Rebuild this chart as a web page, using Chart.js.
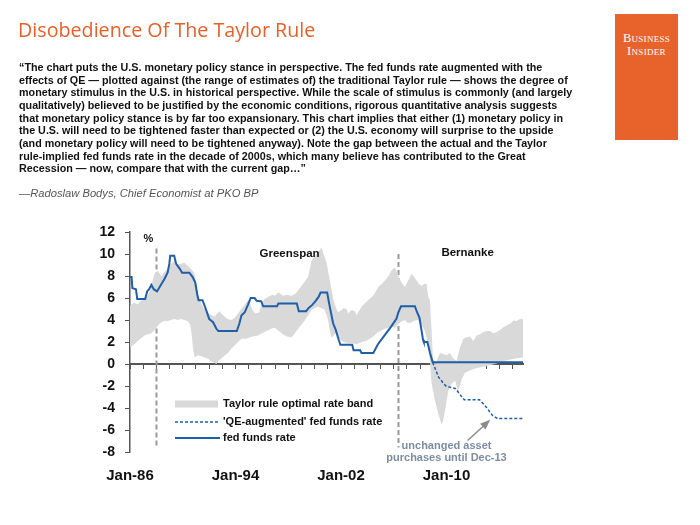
<!DOCTYPE html>
<html>
<head>
<meta charset="utf-8">
<script src="https://cdn.jsdelivr.net/npm/chart.js@4.4.0/dist/chart.umd.min.js"></script>
<style>
  body { margin: 0; width: 700px; height: 525px; background: #fff; position: relative; overflow: hidden; }
  #chart { position: absolute; left: 0; top: 0; }
  .title { position: absolute; left: 18px; top: 16px; font: 19.7px "Open Sans", sans-serif; color: #e85f27; white-space: nowrap; }
  .logo { position: absolute; left: 615px; top: 14px; width: 63px; height: 126px; background: #e8632b; color: #fff;
          font: 12.5px "Liberation Serif", serif; font-variant: small-caps; text-align: center; letter-spacing: 0.3px; }
  .logo div { position: absolute; left: 0; width: 63px; line-height: 13px; }
  .quote { position: absolute; left: 19px; top: 61px; font: bold 10.75px "Liberation Sans", sans-serif; color: #111; line-height: 12.65px; white-space: nowrap; }
  .by { position: absolute; left: 19px; top: 187px; font: italic 11.2px "Liberation Sans", sans-serif; color: #555; white-space: nowrap; }
</style>
</head>
<body>
<canvas id="chart" width="700" height="525"></canvas>
<div class="title">Disobedience Of The Taylor Rule</div>
<div class="logo"><div style="top:18px">Business</div><div style="top:31px">Insider</div></div>
<div class="quote">
“The chart puts the U.S. monetary policy stance in perspective. The fed funds rate augmented with the<br>
effects of QE — plotted against (the range of estimates of) the traditional Taylor rule — shows the degree of<br>
monetary stimulus in the U.S. in historical perspective. While the scale of stimulus is commonly (and largely<br>
qualitatively) believed to be justified by the economic conditions, rigorous quantitative analysis suggests<br>
that monetary policy stance is by far too expansionary. This chart implies that either (1) monetary policy in<br>
the U.S. will need to be tightened faster than expected or (2) the U.S. economy will surprise to the upside<br>
(and monetary policy will need to be tightened anyway). Note the gap between the actual and the Taylor<br>
rule-implied fed funds rate in the decade of 2000s, which many believe has contributed to the Great<br>
Recession — now, compare that with the current gap…”
</div>
<div class="by">—Radoslaw Bodys, Chief Economist at PKO BP</div>

<script>
// x values are decimal years
const labelYears = [1986, 1994, 2002, 2010];

const rateYears = [1986.0, 1986.12, 1986.18, 1986.45, 1986.55, 1987.15, 1987.3, 1987.45, 1987.62, 1987.8, 1988.05,
  1988.35, 1988.6, 1988.85, 1988.98, 1989.05, 1989.35, 1989.5, 1989.75, 1989.95, 1990.5, 1990.75, 1990.95, 1991.1,
  1991.2, 1991.5, 1991.75, 1992.0, 1992.3, 1992.55, 1992.7, 1994.1, 1994.3, 1994.45, 1994.7, 1994.95, 1995.15,
  1995.45, 1995.6, 1995.95, 1996.1, 1997.15, 1997.25, 1998.65, 1998.8, 1999.35, 1999.55, 1999.8, 2000.05, 2000.3,
  2000.45, 2000.95, 2001.1, 2001.25, 2001.4, 2001.6, 2001.8, 2001.95, 2002.85, 2002.95, 2003.45, 2003.55, 2004.45,
  2004.8, 2005.3, 2005.8, 2006.2, 2006.35, 2006.55, 2007.6, 2007.75, 2007.95, 2008.1, 2008.22, 2008.28, 2008.55,
  2008.75, 2008.95, 2015.8];
const rateValues = [7.9, 7.9, 6.9, 6.8, 5.9, 5.9, 6.6, 6.8, 7.2, 6.8, 6.6,
  7.2, 7.7, 8.3, 9.1, 9.85, 9.85, 9.1, 8.7, 8.3, 8.3, 7.9, 7.4, 6.3,
  5.8, 5.8, 5.0, 4.1, 3.8, 3.2, 3.0, 3.0, 3.7, 4.4, 4.7, 5.4, 6.0,
  6.0, 5.75, 5.7, 5.25, 5.25, 5.5, 5.5, 4.8, 4.8, 5.1, 5.35, 5.7, 6.1,
  6.5, 6.5, 5.5, 4.6, 3.7, 3.1, 2.3, 1.75, 1.75, 1.25, 1.25, 1.0, 1.0,
  1.8, 2.6, 3.4, 4.1, 4.7, 5.25, 5.25, 4.75, 4.2, 3.1, 2.2, 2.0, 2.0,
  1.0, 0.15, 0.15];

const qeYears = [2008.95, 2009.0, 2009.4, 2009.8, 2010.0, 2010.45, 2010.7, 2011.1, 2011.35, 2012.5, 2013.0, 2013.5, 2013.85, 2015.8];
const qeValues = [0.15, 0.0, -1.2, -1.8, -2.05, -2.15, -2.25, -2.9, -3.25, -3.25, -3.9, -4.7, -4.95, -4.95];

const bandHighYears = [1986.0, 1986.3, 1986.57, 1986.8, 1987.1, 1987.3, 1987.48, 1987.7, 1987.86, 1988.09, 1988.37,
  1988.55, 1988.75, 1989.0, 1989.2, 1989.38, 1989.6, 1989.76, 1990.14, 1990.4, 1990.65, 1990.9, 1991.05, 1991.28,
  1991.6, 1991.88, 1992.1, 1992.42, 1992.6, 1992.8, 1993.0, 1993.18, 1993.4, 1993.68, 1993.94, 1994.2, 1994.44,
  1994.7, 1994.94, 1995.1, 1995.25, 1995.5, 1995.8, 1996.0, 1996.2, 1996.46, 1996.8, 1997.0, 1997.22, 1997.4,
  1997.6, 1997.9, 1998.24, 1998.45, 1998.62, 1998.8, 1999.0, 1999.25, 1999.5, 1999.65, 1999.76, 1999.95, 2000.14,
  2000.35, 2000.52, 2000.65, 2000.77, 2000.9, 2001.02, 2001.15, 2001.28, 2001.4, 2001.53, 2001.76, 2002.04, 2002.2,
  2002.42, 2002.54, 2002.8, 2003.05, 2003.18, 2003.35, 2003.55, 2003.8, 2004.06, 2004.25, 2004.44, 2004.6, 2004.82,
  2005.1, 2005.33, 2005.6, 2005.83, 2006.08, 2006.25, 2006.46, 2006.65, 2006.84, 2007.1, 2007.35, 2007.55, 2007.73,
  2007.9, 2008.11, 2008.3, 2008.49, 2008.61, 2008.74, 2008.87, 2008.97, 2009.2, 2009.35, 2009.5, 2009.75, 2010.0,
  2010.26, 2010.51, 2010.77, 2011.02, 2011.27, 2011.5, 2011.78, 2012.03, 2012.29, 2012.55, 2012.79, 2013.05, 2013.3,
  2013.55, 2013.8, 2014.05, 2014.31, 2014.55, 2014.82, 2015.07, 2015.3, 2015.57, 2015.8];
const bandHigh = [5.3, 5.6, 5.4, 5.7, 6.0, 6.2, 6.5, 7.5, 8.2, 8.5, 8.0,
  8.3, 8.5, 9.0, 9.2, 9.4, 9.0, 9.1, 9.2, 8.9, 8.6, 8.2, 7.0, 5.8,
  5.1, 4.7, 4.5, 4.3, 4.6, 4.8, 4.5, 4.3, 4.1, 4.0, 4.2, 4.6, 5.0,
  5.4, 5.8, 5.6, 5.0, 4.6, 4.7, 5.6, 5.9, 6.1, 6.3, 6.2, 6.5, 6.4,
  6.2, 6.3, 6.2, 6.3, 6.5, 6.8, 7.1, 7.5, 7.9, 8.7, 9.4, 9.7, 10.0,
  10.3, 10.6, 10.1, 9.7, 9.2, 8.5, 7.6, 6.8, 6.0, 5.4, 4.7, 4.9, 5.1,
  5.0, 4.6, 4.9, 4.8, 4.4, 4.8, 5.2, 5.5, 5.8, 6.0, 6.2, 6.5, 7.0,
  7.3, 7.6, 8.0, 8.5, 8.8, 8.3, 7.7, 7.3, 7.0, 7.6, 8.2, 7.9, 7.6,
  7.3, 7.1, 7.3, 7.3, 6.1, 5.8, 3.0, 0.5, 0.0, 0.6, 1.0, 0.9, 0.8,
  1.0, 0.5, 0.3, 1.5, 2.3, 2.4, 2.5, 2.1, 2.6, 2.7, 2.9, 3.0, 3.0,
  2.8, 2.9, 3.1, 3.35, 3.5, 3.65, 3.95, 3.9, 4.1, 4.1];

const bandLowYears = [1986.0, 1986.34, 1986.7, 1987.1, 1987.35, 1987.61, 1987.8, 1987.99, 1988.2, 1988.37, 1988.6,
  1988.87, 1989.1, 1989.38, 1989.6, 1989.89, 1990.1, 1990.37, 1990.55, 1990.65, 1990.77, 1990.9, 1991.15, 1991.41,
  1991.65, 1991.91, 1992.1, 1992.29, 1992.55, 1992.75, 1992.92, 1993.2, 1993.43, 1993.7, 1993.94, 1994.2, 1994.44,
  1994.8, 1995.3, 1995.7, 1996.0, 1996.44, 1996.7, 1996.97, 1997.3, 1997.6, 1997.9, 1998.24, 1998.45, 1998.62,
  1998.95, 1999.25, 1999.5, 1999.76, 2000.0, 2000.26, 2000.5, 2000.77, 2001.02, 2001.15, 2001.28, 2001.45, 2001.6,
  2001.85, 2002.16, 2002.5, 2002.85, 2003.18, 2003.58, 2003.9, 2004.19, 2004.45, 2004.69, 2005.0, 2005.33, 2005.6,
  2005.83, 2006.08, 2006.3, 2006.46, 2006.84, 2007.0, 2007.22, 2007.5, 2007.83, 2008.1, 2008.36, 2008.5, 2008.61,
  2008.74, 2008.87, 2009.12, 2009.37, 2009.63, 2009.76, 2009.89, 2010.02, 2010.14, 2010.39, 2010.64, 2010.89,
  2011.15, 2011.4, 2011.78, 2012.16, 2012.92, 2013.68, 2014.44, 2015.2, 2015.8];
const bandLow = [1.5, 1.8, 2.2, 2.6, 2.7, 2.8, 3.0, 3.3, 3.6, 3.8, 3.9,
  3.9, 4.0, 4.1, 4.0, 4.1, 4.0, 3.9, 3.6, 3.0, 1.5, 0.6, 0.8, 0.7,
  0.6, 0.5, 0.3, 0.15, 0.0, 0.3, 0.5, 0.8, 1.0, 1.4, 1.7, 2.0, 2.3,
  2.3, 2.5, 2.6, 2.8, 3.05, 3.2, 3.3, 3.0, 2.7, 2.5, 2.4, 2.7, 3.0,
  3.5, 3.95, 4.4, 4.9, 5.1, 5.2, 5.1, 4.9, 4.0, 3.0, 2.4, 2.6, 2.8,
  2.3, 2.0, 1.9, 1.9, 1.8, 2.0, 2.1, 2.3, 2.5, 2.8, 3.0, 3.2, 3.3,
  3.4, 3.3, 3.6, 3.8, 4.0, 3.8, 3.7, 3.9, 4.0, 3.6, 3.0, 2.3, 1.5,
  0.3, -1.8, -3.3, -4.5, -5.5, -5.1, -4.2, -3.3, -2.4, -1.8, -1.5, -2.5,
  -1.4, -0.8, -0.6, -0.4, -0.2, 0.0, 0.3, 0.5, 0.6];

const eraNames = ['Greenspan', 'Bernanke'];
const eraStartYears = [1988.0, 2006.35];

const zip = (xs, ys) => xs.map((x, i) => ({ x: x, y: ys[i] }));

const BLUE = '#1f5ea8';
const BAND = '#d9d9d9';

const decor = {
  id: 'decor',
  beforeDatasetsDraw(chart) {
    const { ctx, scales: { x, y } } = chart;
    ctx.save();
    ctx.strokeStyle = '#9a9a9a';
    ctx.lineWidth = 2;
    ctx.setLineDash([5, 3]);
    const tops = [10.5, 10.0];
    eraStartYears.forEach((yr, i) => {
      const px = Math.round(x.getPixelForValue(yr)) + 0.5;
      ctx.beginPath();
      ctx.moveTo(px, y.getPixelForValue(tops[i]));
      ctx.lineTo(px, y.getPixelForValue(-7.6));
      ctx.stroke();
    });
    ctx.restore();
  },
  afterDatasetsDraw(chart) {
    const { ctx, chartArea: a, scales: { x, y } } = chart;
    ctx.save();
    ctx.fillStyle = '#111';
    ctx.textBaseline = 'middle';
    ctx.textAlign = 'center';
    ctx.font = 'bold 11.5px "Liberation Sans"';
    ctx.fillText(eraNames[0], x.getPixelForValue(1998.1), y.getPixelForValue(10.05));
    ctx.fillText(eraNames[1], x.getPixelForValue(2011.6), y.getPixelForValue(10.1));
    ctx.font = 'bold 11px "Liberation Sans"';
    ctx.fillText('%', a.left + 18.5, a.top + 7);

    // legend
    const lx = a.left + 45, tx = a.left + 93;
    const rows = [a.top + 172, a.top + 190, a.top + 206];
    ctx.fillStyle = BAND;
    ctx.fillRect(lx, rows[0] - 3.5, 43, 7);
    ctx.strokeStyle = BLUE;
    ctx.lineWidth = 1.5;
    ctx.setLineDash([3, 2]);
    ctx.beginPath(); ctx.moveTo(lx, rows[1]); ctx.lineTo(lx + 45, rows[1]); ctx.stroke();
    ctx.setLineDash([]);
    ctx.lineWidth = 2;
    ctx.beginPath(); ctx.moveTo(lx, rows[2]); ctx.lineTo(lx + 45, rows[2]); ctx.stroke();
    ctx.fillStyle = '#111';
    ctx.textAlign = 'left';
    ctx.font = 'bold 11px "Liberation Sans"';
    const names = chart.data.datasets.slice(1).map(d => d.label);
    names.forEach((n, i) => ctx.fillText(n, tx, rows[i]));

    // annotation + arrow
    ctx.textAlign = 'center';
    ctx.fillStyle = '#7d8ca3';
    const cx = x.getPixelForValue(2010.0);
    ctx.fillText('unchanged asset', cx, a.bottom - 6);
    ctx.fillText('purchases until Dec-13', cx, a.bottom + 6);
    const x1 = x.getPixelForValue(2011.6), y1 = y.getPixelForValue(-6.95);
    const x2 = x.getPixelForValue(2013.2), y2 = y.getPixelForValue(-5.2);
    ctx.strokeStyle = '#8c8c8c';
    ctx.fillStyle = '#8c8c8c';
    ctx.lineWidth = 1.5;
    ctx.beginPath(); ctx.moveTo(x1, y1); ctx.lineTo(x2, y2); ctx.stroke();
    const ang = Math.atan2(y2 - y1, x2 - x1);
    ctx.beginPath();
    ctx.moveTo(x2 + 2 * Math.cos(ang), y2 + 2 * Math.sin(ang));
    ctx.lineTo(x2 - 8 * Math.cos(ang) + 4 * Math.sin(ang), y2 - 8 * Math.sin(ang) - 4 * Math.cos(ang));
    ctx.lineTo(x2 - 8 * Math.cos(ang) - 4 * Math.sin(ang), y2 - 8 * Math.sin(ang) + 4 * Math.cos(ang));
    ctx.closePath();
    ctx.fill();
    ctx.restore();
  }
};

const ctx = document.getElementById('chart').getContext('2d');
new Chart(ctx, {
  type: 'line',
  data: {
    datasets: [
      { label: 'band low', data: zip(bandLowYears, bandLow), borderWidth: 0, borderColor: 'rgba(0,0,0,0)',
        pointRadius: 0, fill: false, order: 3, xAxisID: 'x', yAxisID: 'y' },
      { label: 'Taylor rule optimal rate band', data: zip(bandHighYears, bandHigh), borderWidth: 0,
        borderColor: 'rgba(0,0,0,0)', backgroundColor: BAND, pointRadius: 0, fill: '-1', order: 2, xAxisID: 'x', yAxisID: 'y' },
      { label: "'QE-augmented' fed funds rate", data: zip(qeYears, qeValues), borderColor: BLUE, borderWidth: 1.5,
        borderDash: [3, 2], pointRadius: 0, fill: false, order: 1, xAxisID: 'x', yAxisID: 'y' },
      { label: 'fed funds rate', data: zip(rateYears, rateValues), borderColor: BLUE, borderWidth: 2,
        pointRadius: 0, fill: false, order: 0, xAxisID: 'x', yAxisID: 'y' }
    ]
  },
  options: {
    responsive: false,
    animation: false,
    devicePixelRatio: 1,
    layout: { padding: { left: 80, right: 177, top: 232, bottom: 33 } },
    plugins: { legend: { display: false }, tooltip: { enabled: false } },
    scales: {
      x: {
        type: 'linear', min: 1986, max: 2015.8, position: 'bottom',
        grid: { display: false, drawTicks: false },
        border: { display: false },
        ticks: { color: '#111', padding: 15, maxRotation: 0, autoSkip: false,
                 font: { family: 'Liberation Sans', weight: 'bold', size: 15 },
                 callback: v => 'Jan-' + String(v).slice(2) },
        afterBuildTicks: s => { s.ticks = labelYears.map(v => ({ value: v })); },
        afterFit: s => { s.height = 40; }
      },
      x0: {
        type: 'linear', min: 1986, max: 2015.8, position: { y: 0 },
        ticks: { display: false, stepSize: 1, includeBounds: false },
        grid: { drawOnChartArea: false, tickLength: 4, color: '#555', lineWidth: 1 },
        border: { color: '#555', width: 2 }
      },
      y: {
        type: 'linear', min: -8, max: 12, position: 'left',
        ticks: { stepSize: 2, color: '#111', padding: 10,
                 font: { family: 'Liberation Sans', weight: 'bold', size: 14 } },
        grid: { drawOnChartArea: false, tickLength: 5, color: '#555' },
        border: { color: '#555', width: 1.5 },
        afterFit: s => { s.width = 50; }
      }
    }
  },
  plugins: [decor]
});
</script>
</body>
</html>
